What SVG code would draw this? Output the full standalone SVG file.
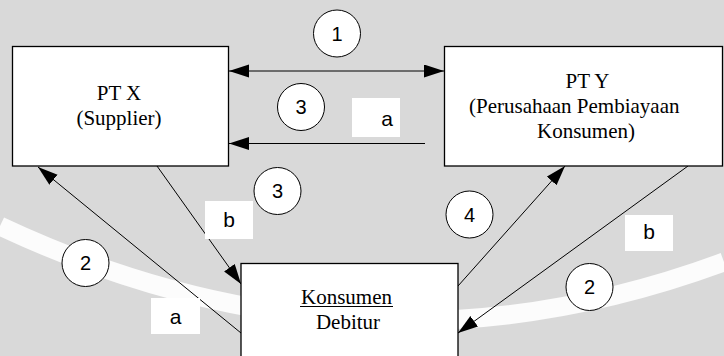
<svg xmlns="http://www.w3.org/2000/svg" width="724" height="356" viewBox="0 0 724 356">
<defs>
<style>
.box{fill:#fff;stroke:#000;stroke-width:1.3}
.lbl{fill:#fff;stroke:none}
.num{fill:#fff;stroke:#000;stroke-width:1}
.ln{fill:none;stroke:#000;stroke-width:1}
.serif{font-family:"Liberation Serif","Times New Roman",serif;font-size:21px;fill:#000}
.sans{font-family:"Liberation Sans",Arial,sans-serif;font-size:20px;fill:#000;text-anchor:middle}
.sans2{font-family:"Liberation Sans",Arial,sans-serif;font-size:21px;fill:#000;text-anchor:middle}
</style>
<marker id="ah" markerUnits="userSpaceOnUse" markerWidth="22" markerHeight="14" refX="20" refY="6.5" orient="auto-start-reverse">
<path d="M0,0 L20,6.5 L0,13 z" fill="#000"/>
</marker>
</defs>
<rect x="0" y="0" width="724" height="356" fill="#d9d9d9"/>
<path d="M0,226 Q362,396 724,262" fill="none" stroke="#fff" stroke-width="19" opacity="0.9"/>

<g id="connectors">
<line class="ln" x1="229" y1="71" x2="444" y2="71" marker-start="url(#ah)" marker-end="url(#ah)"/>
<line class="ln" x1="425" y1="143.5" x2="229" y2="143.5" marker-end="url(#ah)"/>
<line class="ln" x1="157" y1="166" x2="241" y2="284" marker-end="url(#ah)"/>
<line class="ln" x1="241" y1="333" x2="38" y2="167" marker-end="url(#ah)"/>
<line class="ln" x1="458" y1="286" x2="565" y2="166" marker-end="url(#ah)"/>
<line class="ln" x1="688" y1="166" x2="458" y2="333" marker-end="url(#ah)"/>
</g>

<g id="ptx">
<rect class="box" x="12.5" y="46.5" width="216" height="119.5"/>
<text class="serif" x="119" y="100" text-anchor="middle">PT X</text>
<text class="serif" x="119" y="125" text-anchor="middle">(Supplier)</text>
</g>

<g id="pty">
<rect class="box" x="444.5" y="46.5" width="278" height="119.5"/>
<text class="serif" x="587.5" y="88" text-anchor="middle">PT Y</text>
<text class="serif" x="469" y="113">(Perusahaan Pembiayaan</text>
<text class="serif" x="586" y="138" text-anchor="middle">Konsumen)</text>
</g>

<g id="konsumen">
<rect class="box" x="241" y="263.5" width="217" height="100"/>
<text class="serif" x="346.5" y="304" text-anchor="middle">Konsumen</text>
<line x1="300" y1="306.5" x2="393" y2="306.5" stroke="#000" stroke-width="1"/>
<text class="serif" x="348" y="329" text-anchor="middle">Debitur</text>
</g>

<g id="labels">
<rect class="lbl" x="352" y="98" width="48" height="39"/>
<text class="sans2" x="387" y="126">a</text>
<rect class="lbl" x="205" y="201" width="48" height="38"/>
<text class="sans2" x="229" y="227">b</text>
<rect class="lbl" x="151" y="298" width="49" height="36"/>
<text class="sans2" x="175.5" y="324">a</text>
<rect class="lbl" x="625" y="215" width="48" height="36"/>
<text class="sans2" x="649" y="239">b</text>
</g>

<g id="step1"><circle class="num" cx="337" cy="33.5" r="23.5"/><text class="sans" x="337" y="40.5">1</text></g>
<g id="step3a"><circle class="num" cx="301" cy="107" r="23.5"/><text class="sans" x="301" y="114">3</text></g>
<g id="step3b"><circle class="num" cx="277.5" cy="191" r="23.5"/><text class="sans" x="277.5" y="198">3</text></g>
<g id="step2a"><circle class="num" cx="85.5" cy="263" r="23.5"/><text class="sans" x="85.5" y="270">2</text></g>
<g id="step4"><circle class="num" cx="469.5" cy="214.5" r="23.5"/><text class="sans" x="469.5" y="221.5">4</text></g>
<g id="step2b"><circle class="num" cx="589.5" cy="287" r="23.5"/><text class="sans" x="589.5" y="294">2</text></g>
</svg>
